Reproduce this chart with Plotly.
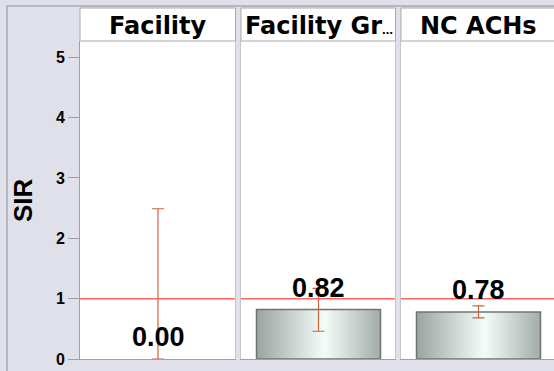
import plotly.graph_objects as go

# ---- data ----
categories = ["Facility", "Facility Group", "NC ACHs"]
header_labels = ["Facility", "Facility Gr<span style='font-size:11px'>…</span>", "NC ACHs"]
sir_values = [0.00, 0.82, 0.78]
ci_lower = [0.00, 0.46, 0.68]
ci_upper = [2.49, 1.17, 0.88]
value_labels = ["0.00", "0.82", "0.78"]
y_ticks = [0, 1, 2, 3, 4, 5]
reference_sir = 1.0

# ---- layout constants ----
W, H = 554, 371
BG = "#e0e0ea"
HEAD_FONT = "DejaVu Sans"
LABEL_FONT = "Liberation Sans"
panels_px = [(80, 236), (241, 396), (401, 556)]
plot_top, plot_bottom = 41, 359
header_top = 8
y_max = 5.27
bar_half = 0.4

def px_x(p):
    return p / W

def px_y(p):
    return 1 - p / H

fig = go.Figure()

for i, cat in enumerate(categories):
    ax = "" if i == 0 else str(i + 1)
    xref = "x" + ax
    yref = "y" + ax
    v = sir_values[i]
    # bar drawn as filled polygon with cylindrical gradient
    fig.add_trace(go.Scatter(
        x=[-bar_half, -bar_half, bar_half, bar_half, -bar_half],
        y=[0, v, v, 0, 0],
        xaxis=xref, yaxis=yref,
        mode="lines", fill="toself",
        fillgradient=dict(type="horizontal",
                          colorscale=[[0, "#9ba5a0"], [0.55, "#f4fcf8"], [1, "#a2aca8"]]),
        line=dict(color="#6f7472", width=1.5 if v > 0 else 0),
        hoverinfo="skip", showlegend=False,
    ))
    # confidence interval
    fig.add_trace(go.Scatter(
        x=[0], y=[v], xaxis=xref, yaxis=yref,
        mode="markers", marker=dict(size=1, color="rgba(0,0,0,0)"),
        error_y=dict(type="data", symmetric=False,
                     array=[ci_upper[i] - v], arrayminus=[v - ci_lower[i]],
                     color="#c8643c", thickness=1.2, width=6),
        showlegend=False, hoverinfo="skip", cliponaxis=True,
    ))
    # value label
    fig.add_annotation(x=0, y=v, xref=xref, yref=yref, text="<b>" + value_labels[i] + "</b>",
                       showarrow=False, yshift=22, yanchor="middle",
                       font=dict(family=LABEL_FONT, size=27, color="black"))
    # reference line
    fig.add_shape(type="line", xref=xref + " domain", yref=yref,
                  x0=0, x1=1, y0=reference_sir, y1=reference_sir,
                  line=dict(color="#ff6464", width=1.5), layer="above")

    x0p, x1p = panels_px[i]
    dom_end = min(x1p, W)
    rng_end = -0.5 + (dom_end - x0p) / (x1p - x0p)
    xaxis = dict(domain=[px_x(x0p), px_x(dom_end)], range=[-0.5, rng_end],
                 showticklabels=False, ticks="", showgrid=False, zeroline=False,
                 showline=True, linecolor="#a0a0a0", linewidth=1, mirror=False,
                 anchor=yref, fixedrange=True, automargin=False)
    yaxis = dict(domain=[px_y(plot_bottom), px_y(plot_top)], range=[0, y_max],
                 showgrid=False, zeroline=False, anchor=xref, fixedrange=True,
                 automargin=False)
    if i == 0:
        yaxis.update(tickmode="array", tickvals=y_ticks, ticktext=["<b>%d</b>" % t for t in y_ticks],
                     ticks="outside", ticklen=11, tickcolor="#a0a0a0", tickwidth=1,
                     showline=True, linecolor="#a0a0a0", linewidth=1,
                     tickfont=dict(family=LABEL_FONT, size=16, color="black"))
    else:
        yaxis.update(showticklabels=False, ticks="", showline=True,
                     linecolor="#c4c4ce", linewidth=1)
    fig.update_layout(**{"xaxis" + ax: xaxis, "yaxis" + ax: yaxis})

    # panel right border
    fig.add_shape(type="line", xref="paper", yref="paper",
                  x0=px_x(x1p - 0.5), x1=px_x(x1p - 0.5), y0=px_y(plot_bottom), y1=px_y(plot_top),
                  line=dict(color="#c4c4ce", width=1), layer="above")
    # header box
    fig.add_shape(type="rect", xref="paper", yref="paper",
                  x0=px_x(x0p), x1=px_x(x1p - 0.5), y0=px_y(plot_top), y1=px_y(header_top),
                  fillcolor="white", line=dict(color="#a8a8a8", width=1), layer="below")
    fig.add_annotation(x=px_x((x0p + x1p) / 2), y=px_y((header_top + plot_top) / 2),
                       xref="paper", yref="paper", text="<b>" + header_labels[i] + "</b>",
                       showarrow=False, xanchor="center", yanchor="middle", yshift=-1.5,
                       font=dict(family=HEAD_FONT, size=24, color="black"))

# outer frame
fig.add_shape(type="rect", xref="paper", yref="paper",
              x0=px_x(7), x1=1.05, y0=-0.05, y1=px_y(6),
              line=dict(color="#a8a8b0", width=1.5), fillcolor="rgba(0,0,0,0)", layer="below")

# y-axis title
fig.add_annotation(x=px_x(23), y=px_y(200), xref="paper", yref="paper",
                   text="<b>SIR</b>", textangle=-90, showarrow=False,
                   xanchor="center", yanchor="middle",
                   font=dict(family=LABEL_FONT, size=26, color="black"))

fig.update_layout(width=W, height=H, margin=dict(l=0, r=0, t=0, b=0, autoexpand=False),
                  paper_bgcolor=BG, plot_bgcolor="white", showlegend=False)

fig.write_html("out.html", config={"displayModeBar": False},
               post_script="document.body.style.margin='0';document.body.style.overflow='hidden';")
